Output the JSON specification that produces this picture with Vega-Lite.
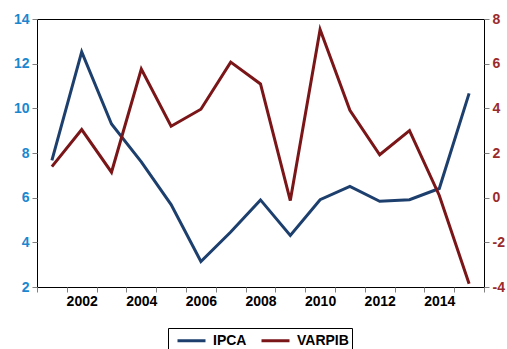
{
  "$schema": "https://vega.github.io/schema/vega-lite/v6.json",
  "autosize": {"type": "none"},
  "width": 447,
  "height": 268,
  "padding": {"left": 37, "top": 19, "right": 23, "bottom": 62},
  "background": "white",
  "config": {
    "font": "Liberation Sans",
    "view": {"stroke": "black", "strokeWidth": 1},
    "axis": {"domain": false, "grid": false, "labelFont": "Liberation Sans", "labelFontWeight": 700, "labelFontSize": 14, "tickColor": "#808080", "tickSize": 5, "labelPadding": 3, "title": null},
    "axisY": {"labelFontWeight": 700}
  },
  "data": {
    "values": [
      {"year": 2001, "series": "IPCA", "value": 7.67},
      {"year": 2002, "series": "IPCA", "value": 12.53},
      {"year": 2003, "series": "IPCA", "value": 9.30},
      {"year": 2004, "series": "IPCA", "value": 7.60},
      {"year": 2005, "series": "IPCA", "value": 5.69},
      {"year": 2006, "series": "IPCA", "value": 3.14},
      {"year": 2007, "series": "IPCA", "value": 4.46},
      {"year": 2008, "series": "IPCA", "value": 5.90},
      {"year": 2009, "series": "IPCA", "value": 4.31},
      {"year": 2010, "series": "IPCA", "value": 5.91},
      {"year": 2011, "series": "IPCA", "value": 6.50},
      {"year": 2012, "series": "IPCA", "value": 5.84},
      {"year": 2013, "series": "IPCA", "value": 5.91},
      {"year": 2014, "series": "IPCA", "value": 6.41},
      {"year": 2015, "series": "IPCA", "value": 10.67},
      {"year": 2001, "series": "VARPIB", "value": 1.39},
      {"year": 2002, "series": "VARPIB", "value": 3.05},
      {"year": 2003, "series": "VARPIB", "value": 1.14},
      {"year": 2004, "series": "VARPIB", "value": 5.76},
      {"year": 2005, "series": "VARPIB", "value": 3.20},
      {"year": 2006, "series": "VARPIB", "value": 3.96},
      {"year": 2007, "series": "VARPIB", "value": 6.07},
      {"year": 2008, "series": "VARPIB", "value": 5.09},
      {"year": 2009, "series": "VARPIB", "value": -0.13},
      {"year": 2010, "series": "VARPIB", "value": 7.53},
      {"year": 2011, "series": "VARPIB", "value": 3.91},
      {"year": 2012, "series": "VARPIB", "value": 1.92},
      {"year": 2013, "series": "VARPIB", "value": 3.00},
      {"year": 2014, "series": "VARPIB", "value": 0.10},
      {"year": 2015, "series": "VARPIB", "value": -3.85}
    ]
  },
  "encoding": {
    "x": {
      "field": "year", "type": "quantitative",
      "scale": {"domain": [2000.5, 2015.5], "nice": false, "zero": false},
      "axis": {
        "values": [2000.5, 2001.5, 2002.5, 2003.5, 2004.5, 2005.5, 2006.5, 2007.5, 2008.5, 2009.5, 2010.5, 2011.5, 2012.5, 2013.5, 2014.5, 2015.5],
        "labelExpr": "(datum.value + 0.5) % 2 == 0 && datum.value < 2015 ? '' + (datum.value + 0.5) : ''",
        "labelOffset": 14.9,
        "labelOverlap": false,
        "labelBound": false,
        "labelFlush": false,
        "labelColor": "black",
        "labelFontWeight": 700,
        "labelPadding": 2
      }
    },
    "color": {
      "field": "series", "type": "nominal",
      "scale": {"domain": ["IPCA", "VARPIB"], "range": ["#1d3f6e", "#7a1518"]},
      "legend": {
        "title": null, "orient": "none", "legendX": 131, "legendY": 309, "direction": "horizontal",
        "symbolType": "M-1.75,0H1.75", "symbolStrokeWidth": 3, "symbolSize": 256, "symbolFillColor": "transparent",
        "symbolOffset": 11,
        "labelFont": "Liberation Sans", "labelFontWeight": 700, "labelFontSize": 14, "labelColor": "black",
        "strokeColor": "black", "padding": 3, "columnPadding": 8, "labelOffset": 12
      }
    }
  },
  "layer": [
    {
      "transform": [{"filter": "datum.series == 'IPCA'"}],
      "mark": {"type": "line", "strokeWidth": 3},
      "encoding": {
        "y": {
          "field": "value", "type": "quantitative",
          "scale": {"domain": [2, 14], "nice": false, "zero": false},
          "axis": {"orient": "left", "values": [2, 4, 6, 8, 10, 12, 14], "labelColor": "#1a87cf", "labelFontWeight": 700, "labelFont": "Liberation Sans", "labelFontSize": 14}
        }
      }
    },
    {
      "transform": [{"filter": "datum.series == 'VARPIB'"}],
      "mark": {"type": "line", "strokeWidth": 3},
      "encoding": {
        "y": {
          "field": "value", "type": "quantitative",
          "scale": {"domain": [-4, 8], "nice": false, "zero": false},
          "axis": {"orient": "right", "values": [-4, -2, 0, 2, 4, 6, 8], "labelExpr": "'' + datum.value", "labelColor": "#9b2a2b", "labelFontWeight": 700, "labelFont": "Liberation Sans", "labelFontSize": 14}
        }
      }
    }
  ],
  "resolve": {"scale": {"y": "independent"}}
}
